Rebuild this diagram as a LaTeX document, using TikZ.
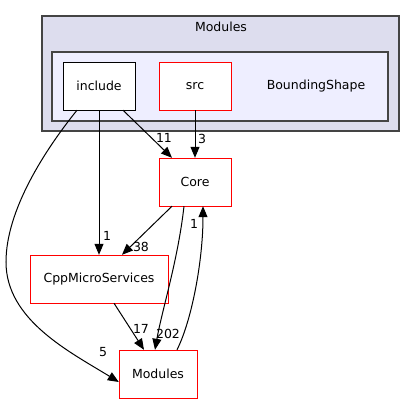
\documentclass[tikz,border=0pt]{standalone}
\usepackage{fontspec}
\setmainfont{DejaVu Sans}
\usetikzlibrary{positioning,arrows.meta}

\definecolor{outerfill}{HTML}{DDDDEE}
\definecolor{innerfill}{HTML}{EEEEFF}
\definecolor{clusterline}{HTML}{444444}
\definecolor{dirline}{HTML}{FF0000}

\begin{document}
\begin{tikzpicture}[x=1pt,y=-1pt,
	font=\fontsize{12.5}{15}\selectfont,
	cluster/.style={draw=clusterline, line width=1.4pt},
	dir/.style={draw=dirline, fill=white, minimum height=48pt, inner sep=0pt},
	dep/.style={-{Triangle[length=11pt,width=9pt]}, draw=black, line width=1pt},
	lbl/.style={inner sep=0pt}]
			\useasboundingbox (0,0) rectangle (416,404);
			\draw[cluster, fill=outerfill] (42,16) rectangle (399,131);
			\node (modlbl) at (221,27) {Modules};
			\draw[cluster, fill=innerfill] (52,52) rectangle (388,121);
			\node (bslbl) at (316,86) {BoundingShape};
			\node[dir, draw=black, minimum width=72pt] (inc) at (99,86) {include};
			\node[dir, minimum width=72pt] (src) at (195,86) {src};
			\node[dir, minimum width=72pt] (core) at (195,182) {Core};
			\node[dir, minimum width=138pt] (cpp) at (99,279) {CppMicroServices};
			\node[dir, minimum width=78pt] (mod) at (158,374) {Modules};
			\draw[dep] ([xshift=24pt]inc.south) -- ([xshift=-23pt]core.north) node[lbl] at (164,138) {11};
			\draw[dep] (src) -- (core) node[lbl] at (202,139) {3};
			\draw[dep] (inc) -- (cpp) node[lbl] at (107,236) {1};
			\draw[dep] ([xshift=-22pt]inc.south) .. controls (45,150) and (6,210) .. (6,262) .. controls (6,320) and (70,352) .. ([yshift=-8pt]mod.west) node[lbl] at (103,352) {5};
			\draw[dep] ([xshift=-23pt]core.south) -- ([xshift=23pt]cpp.north) node[lbl] at (141,247) {38};
			\draw[dep] ([xshift=-11pt]core.south) .. controls (178,260) and (162,310) .. ([xshift=-3pt]mod.north) node[lbl] at (168,334) {202};
			\draw[dep] ([xshift=19pt]mod.north) .. controls (192,320) and (203,260) .. ([xshift=8pt]core.south) node[lbl] at (194,224) {1};
			\draw[dep] ([xshift=15pt]cpp.south) -- ([xshift=-14pt]mod.north) node[lbl] at (141,329) {17};
\end{tikzpicture}
\end{document}
